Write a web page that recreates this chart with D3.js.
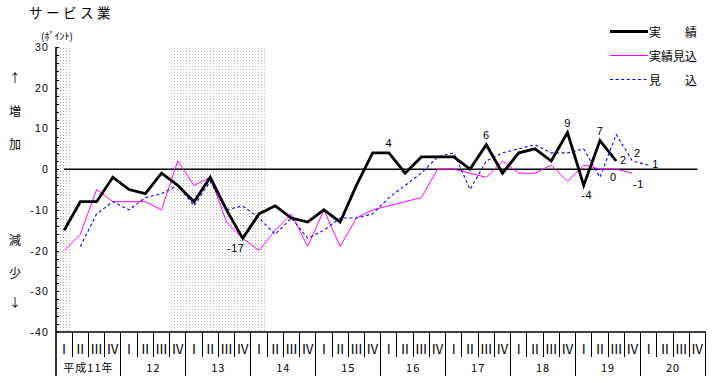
<!DOCTYPE html>
<html><head><meta charset="utf-8">
<script src="https://cdn.jsdelivr.net/npm/d3@7"></script>
<style>
body{margin:0;background:#fff;}
svg{display:block;}
text{fill:#000;}
</style></head>
<body>
<svg id="c" width="714" height="383"></svg>
<script>
// ---- data ----
const quarterLabels = ["Ⅰ","Ⅱ","Ⅲ","Ⅳ"];
const yearLabels = ["平成11年","12","13","14","15","16","17","18","19","20"];
const yTicks = [30,20,10,0,-10,-20,-30,-40];
// 実績 (from 平成11年 I)
const jisseki = [-15,-8,-8,-2,-5,-6,-1,-4,-8,-2,-10,-17,-11,-9,-12,-13,-10,-13,-4,4,4,-1,3,3,3,0,6,-1,4,5,2,9,-4,7,2];
// 実績見込
const jissekiMikomi = [-20,-16,-5,-8,-8,-8,-10,2,-4,-2,-13,-17,-20,-15,-11,-19,-10,-19,-12,-10,-9,-8,-7,0,0,-1,-2,2,-1,-1,1,-3,1,0,0,-1];
// 見込
const mikomi = [null,-19,-11,-8,-10,-7,-6,-4,-9,-3,-10,-9,-12,-16,-12,-17,-15,-12,-12,-11,-7,-4,-1,3,4,-5,2,4,5,6,4,4,5,-2,8.5,2,1];
// shaded periods, in quarter units [start, end)
const shaded = [[0,0.87],[7,13]];
// value labels
const annotations = [
  {s:"jisseki", q:11, place:"belowLeft"},
  {s:"jisseki", q:20, place:"above"},
  {s:"jisseki", q:26, place:"above"},
  {s:"jisseki", q:31, place:"above"},
  {s:"jisseki", q:32, place:"below"},
  {s:"jisseki", q:33, place:"above"},
  {s:"jisseki", q:34, place:"right"},
  {s:"jissekiMikomi", q:34, place:"belowSmall"},
  {s:"jissekiMikomi", q:35, place:"belowRight"},
  {s:"mikomi", q:35, place:"upRight"},
  {s:"mikomi", q:36, place:"right"}
];

const seriesData = {jisseki, jissekiMikomi, mikomi};
const seriesStyle = {
  jisseki:{stroke:"#000", width:2.8, dash:null, name:"実　　績"},
  jissekiMikomi:{stroke:"#ff00ff", width:1, dash:null, name:"実績見込"},
  mikomi:{stroke:"#0000ff", width:1.1, dash:"3,2.6", name:"見　　込"}
};
const placeOffsets = {
  above:[0,-10], below:[3,10], belowLeft:[-7,10], right:[7,-1],
  belowSmall:[-3,8], belowRight:[6,11], upRight:[5,-8]
};

const svg = d3.select("#c");
const font = "'Liberation Sans', 'DejaVu Sans', sans-serif";
const jfont = "'Noto Sans CJK JP', sans-serif";

const x = d3.scaleLinear().domain([0,40]).range([56,705.5]);
const y = d3.scaleLinear().domain([-40,30]).range([332,47]);
const cx = i => x(i+0.5);

// pattern for shading
const defs = svg.append("defs");
const pat = defs.append("pattern").attr("id","dots").attr("patternUnits","userSpaceOnUse")
  .attr("width",3).attr("height",3);
pat.append("rect").attr("x",0).attr("y",0).attr("width",1).attr("height",1).attr("fill","#b4b4b4");

svg.selectAll("rect.shade").data(shaded).enter().append("rect")
  .attr("class","shade")
  .attr("x",d=>x(d[0])).attr("width",d=>x(d[1])-x(d[0]))
  .attr("y",y(30)).attr("height",y(-40)-y(30))
  .attr("fill","url(#dots)");

// title
svg.append("text").attr("x",29).attr("y",18).attr("font-family",jfont).attr("font-size",13.5)
  .attr("letter-spacing",3.5).text("サービス業");
svg.append("text").attr("x",41).attr("y",40).attr("font-family",jfont).attr("font-size",10)
  .text("(ﾎﾟｲﾝﾄ)");

// side labels
const side = [["↑",77],["増",110],["加",143],["減",239],["少",272],["↓",301]];
svg.selectAll("text.side").data(side).enter().append("text").attr("class","side")
  .attr("x",15).attr("y",d=>d[1]).attr("text-anchor","middle").attr("dominant-baseline","central")
  .attr("font-family",jfont).attr("font-size",12).text(d=>d[0]);

// y axis
const yAxis = d3.axisRight(y).tickValues(d3.range(-40,31,2)).tickSize(3).tickFormat("");
const ya = svg.append("g").attr("transform","translate(56,0)").call(yAxis);
ya.select(".domain").remove();
ya.selectAll("line").attr("stroke","#000").attr("stroke-width",1).attr("shape-rendering","crispEdges");
svg.append("line").attr("x1",56).attr("x2",56).attr("y1",y(30)).attr("y2",376)
  .attr("stroke","#000").attr("stroke-width",1.6);
svg.selectAll("text.yt").data(yTicks).enter().append("text").attr("class","yt")
  .attr("x",49).attr("y",d=>y(d)).attr("text-anchor","end").attr("dominant-baseline","central")
  .attr("font-family",font).attr("font-size",10.5).attr("letter-spacing",1.2).text(d=>d);

// x axis
svg.append("line").attr("x1",56).attr("x2",706).attr("y1",332).attr("y2",332)
  .attr("stroke","#000").attr("stroke-width",1.6);
const qIdx = d3.range(40);
svg.selectAll("line.qs").data(d3.range(1,41)).enter().append("line").attr("class","qs")
  .attr("x1",d=>x(d)).attr("x2",d=>x(d)).attr("y1",332)
  .attr("y2",d=>d%4===0?376:357).attr("stroke","#000").attr("stroke-width",1)
  .attr("shape-rendering","crispEdges");
svg.selectAll("text.ql").data(qIdx).enter().append("text").attr("class","ql")
  .attr("x",d=>cx(d)).attr("y",348).attr("text-anchor","middle").attr("dominant-baseline","central")
  .attr("font-family",jfont).attr("font-size",13).text(d=>quarterLabels[d%4]);
svg.selectAll("text.yl").data(yearLabels).enter().append("text").attr("class","yl")
  .attr("x",(d,i)=>x(i*4+2)).attr("y",367).attr("text-anchor","middle").attr("dominant-baseline","central")
  .attr("font-family",jfont).attr("font-size",11).attr("letter-spacing",1).text(d=>d);

// zero line
svg.append("line").attr("x1",cx(0)).attr("x2",cx(39)).attr("y1",y(0)).attr("y2",y(0))
  .attr("stroke","#000").attr("stroke-width",1.5);

// lines
const line = d3.line().defined(d=>d!=null).x((d,i)=>cx(i)).y(d=>y(d));
["jissekiMikomi","mikomi","jisseki"].forEach(k=>{
  const st = seriesStyle[k];
  svg.append("path").datum(seriesData[k]).attr("d",line).attr("fill","none")
    .attr("stroke",st.stroke).attr("stroke-width",st.width)
    .attr("stroke-dasharray",st.dash).attr("stroke-linejoin","miter");
});

// annotations
svg.selectAll("text.ann").data(annotations).enter().append("text").attr("class","ann")
  .attr("x",d=>cx(d.q)+placeOffsets[d.place][0])
  .attr("y",d=>y(seriesData[d.s][d.q])+placeOffsets[d.place][1])
  .attr("text-anchor","middle").attr("dominant-baseline","central")
  .attr("font-family",font).attr("font-size",11).attr("letter-spacing",0.5)
  .text(d=>Math.round(seriesData[d.s][d.q]));

// legend
const legKeys = ["jisseki","jissekiMikomi","mikomi"];
const lg = svg.append("g").attr("transform","translate(610,31.5)");
legKeys.forEach((k,i)=>{
  const st = seriesStyle[k];
  lg.append("line").attr("x1",0).attr("x2",38).attr("y1",i*24).attr("y2",i*24)
    .attr("stroke",st.stroke).attr("stroke-width",k==="jisseki"?st.width:1).attr("stroke-dasharray",st.dash);
  lg.append("text").attr("x",39).attr("y",i*24).attr("dominant-baseline","central")
    .attr("font-family",jfont).attr("font-size",12).text(st.name);
});
</script>
</body></html>
